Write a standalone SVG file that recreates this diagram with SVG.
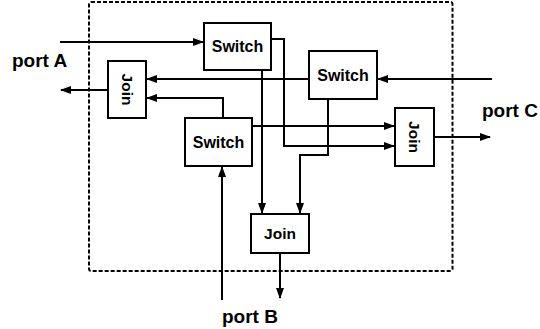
<svg xmlns="http://www.w3.org/2000/svg" width="540" height="329" viewBox="0 0 540 329">
<style>
.box{fill:#fff;stroke:#000;stroke-width:2}
.lbl{font-family:"Liberation Sans",Arial,sans-serif;font-weight:bold;font-size:16px;text-anchor:middle;fill:#000}
.jl{font-size:15.5px}
.port{font-family:"Liberation Sans",Arial,sans-serif;font-weight:bold;font-size:19px;fill:#000}
.c{fill:none;stroke:#000;stroke-width:2;marker-end:url(#ah)}
</style>
<defs>
<marker id="ah" markerUnits="userSpaceOnUse" markerWidth="11" markerHeight="8" refX="10" refY="4" orient="auto">
<path d="M0,0 L11,4 L0,8 z" fill="#000"/>
</marker>
</defs>
<rect id="boundary" x="89" y="2" width="363.5" height="269" rx="2" fill="none" stroke="#000" stroke-width="2" stroke-dasharray="4,2"/>
<g id="connectors">
<path class="c" d="M60,42 H203"/>
<path class="c" d="M108,90 H61"/>
<path class="c" d="M309,79 H147"/>
<path class="c" d="M223,118 V98 H147"/>
<path class="c" d="M271,39 H284 V146 H394"/>
<path class="c" d="M262,70 V213"/>
<path class="c" d="M252,126 H394"/>
<path class="c" d="M328,99 V155 H300 V213"/>
<path class="c" d="M492,79 H378"/>
<path class="c" d="M434,137 H490"/>
<path class="c" d="M222,300 V167"/>
<path class="c" d="M280,253 V298"/>
</g>
<g id="switch1"><rect class="box" x="204" y="23" width="67" height="47"/><text class="lbl" x="237.5" y="52">Switch</text></g>
<g id="switch2"><rect class="box" x="309" y="51" width="68" height="48"/><text class="lbl" x="343" y="81">Switch</text></g>
<g id="switch3"><rect class="box" x="185" y="118" width="67" height="48"/><text class="lbl" x="218.5" y="148">Switch</text></g>
<g id="joinA"><rect class="box" x="108" y="61" width="38" height="57"/><text class="lbl jl" transform="translate(127,89.5) rotate(90)" x="0" y="5.5">Join</text></g>
<g id="joinC"><rect class="box" x="395" y="108" width="39" height="58"/><text class="lbl jl" transform="translate(414.5,137) rotate(90)" x="0" y="5.5">Join</text></g>
<g id="joinB"><rect class="box" x="251" y="214" width="58" height="39"/><text class="lbl jl" x="280" y="239">Join</text></g>
<g id="ports">
<text class="port" x="12" y="67">port A</text>
<text class="port" x="482" y="117">port C</text>
<text class="port" x="222" y="323">port B</text>
</g>
</svg>
